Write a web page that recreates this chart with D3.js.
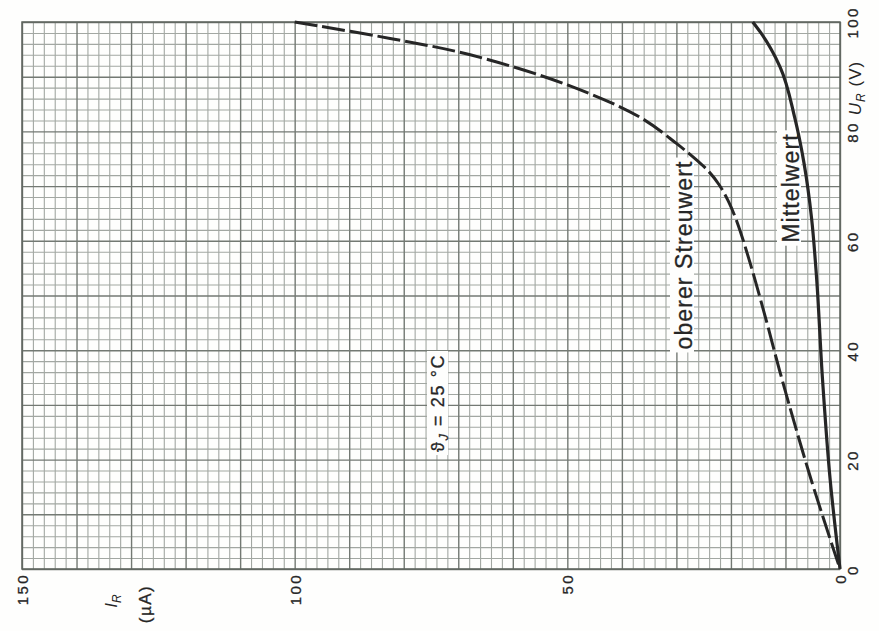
<!DOCTYPE html>
<html><head><meta charset="utf-8">
<script src="https://cdn.jsdelivr.net/npm/d3@7"></script>
<style>html,body{margin:0;padding:0;background:#fff}svg{display:block}</style>
</head><body><svg id="chart" width="879" height="631"></svg>
<script>
// ---- data ----
const currentTicks = [150, 100, 50, 0];          // I_R (µA)
const voltageTicks = [0, 20, 40, 60, 80, 100];   // U_R (V)
const upperCurrent = [0, 5.5, 11, 13.4, 16.5, 18.9, 20.5, 22.2, 24, 26, 30, 36.7, 50, 67.8, 82.5, 100];
const upperVoltage = [0, 17, 36, 45, 56, 63.5, 67.3, 70.3, 72.6, 74.5, 77.8, 82.6, 88.5, 94, 97, 100];
const meanCurrent = [0, 1.8, 3.2, 4.4, 5.2, 6.6, 8.3, 11, 14.5, 16];
const meanVoltage = [0, 16.3, 34.6, 54.7, 64, 74.2, 82.5, 91.8, 98, 100];
const labelUpper = "oberer Streuwert";
const labelMean = "Mittelwert";
const labelTemp = ["ϑ", "J", " = 25 °C"];

// ---- layout ----
const svg = d3.select("#chart");
const L = 22, R = 840, T = 22, B = 569;
const x = d3.scaleLinear().domain([150, 0]).range([L, R]);
const y = d3.scaleLinear().domain([0, 100]).range([B, T]);
const ink = "#262626";
const font = "'Liberation Sans', Arial, sans-serif";
const paper = "#fefefd";

svg.append("rect").attr("width", 879).attr("height", 631).attr("fill", paper);

// grid via axes
const minorX = d3.range(0, 150.001, 2).filter(v => v % 10 !== 0);
const majorX = d3.range(0, 150.001, 10);
const minorY = d3.range(0, 100.001, 2).filter(v => v % 10 !== 0);
const majorY = d3.range(0, 100.001, 10);

function grid(axis, vals, color, w) {
  const g = svg.append("g");
  g.call(axis.tickValues(vals).tickFormat(""));
  g.select(".domain").remove();
  g.selectAll(".tick line").attr("stroke", color).attr("stroke-width", w);
  return g;
}
grid(d3.axisBottom(x).tickSize(-(B - T)), minorX, "#a2a7a2", 1.1).attr("transform", `translate(0,${B})`);
grid(d3.axisLeft(y).tickSize(-(R - L)), minorY, "#a2a7a2", 1.1).attr("transform", `translate(${L},0)`);
grid(d3.axisBottom(x).tickSize(-(B - T)), majorX, "#737973", 1.4).attr("transform", `translate(0,${B})`);
grid(d3.axisLeft(y).tickSize(-(R - L)), majorY, "#737973", 1.4).attr("transform", `translate(${L},0)`);
svg.append("rect").attr("x", L).attr("y", T).attr("width", R - L).attr("height", B - T)
  .attr("fill", "none").attr("stroke", "#5d635d").attr("stroke-width", 1.5);

// label with white box helper
function boxedLabel(cx, cy, size, spacing, build) {
  const g = svg.append("g").attr("transform", `translate(${cx},${cy}) rotate(-90)`);
  const t = g.append("text").attr("text-anchor", "middle").attr("font-family", font)
    .attr("font-size", size).attr("letter-spacing", spacing).attr("fill", ink)
    .attr("stroke", ink).attr("stroke-width", 0.3);
  build(t);
  const bb = t.node().getBBox();
  g.insert("rect", "text").attr("x", bb.x - 3).attr("y", bb.y - 1)
    .attr("width", bb.width + 6).attr("height", bb.height - 2).attr("fill", paper);
  return g;
}

// curve labels (under the curves)
boxedLabel(692, 255, 23, 1.1, t => t.text(labelUpper));
boxedLabel(799, 188, 23, 1.1, t => t.text(labelMean));
boxedLabel(444, 403, 18, 1.6, t => {
  t.append("tspan").text(labelTemp[0]);
  t.append("tspan").attr("dy", 4).attr("font-size", 13).attr("font-style", "italic").text(labelTemp[1]);
  t.append("tspan").attr("dy", -4).text(labelTemp[2]);
});

// curves
const line = d3.line().x(d => x(d[0])).y(d => y(d[1])).curve(d3.curveCatmullRom.alpha(0.5));
const upper = upperCurrent.map((c, i) => [c, upperVoltage[i]]).reverse();
const mean = meanCurrent.map((c, i) => [c, meanVoltage[i]]).reverse();
svg.append("path").attr("d", line(upper)).attr("fill", "none").attr("stroke", ink)
  .attr("stroke-width", 3).attr("stroke-dasharray", "23,5");
svg.append("path").attr("d", line.curve(d3.curveMonotoneY)(mean)).attr("fill", "none").attr("stroke", ink)
  .attr("stroke-width", 3.2);

// bottom axis labels (I_R)
const ax = svg.append("g").attr("transform", `translate(0,${B})`)
  .call(d3.axisBottom(x).tickValues(currentTicks).tickSize(0));
ax.select(".domain").remove();
ax.selectAll("text").attr("transform", "rotate(-90)").attr("x", -4).attr("y", 0)
  .attr("dy", "0.36em").attr("text-anchor", "end").attr("font-family", font)
  .attr("font-size", 15).attr("letter-spacing", 2.4).attr("fill", ink)
  .attr("stroke", ink).attr("stroke-width", 0.3);

// right axis labels (U_R)
const ay = svg.append("g").attr("transform", `translate(${R},0)`)
  .call(d3.axisRight(y).tickValues(voltageTicks).tickSize(0));
ay.select(".domain").remove();
ay.selectAll("text").attr("transform", "rotate(-90)").attr("x", 0).attr("y", 18)
  .attr("dy", 0).attr("text-anchor", "middle").attr("font-family", font)
  .attr("font-size", 15).attr("letter-spacing", 2.4).attr("fill", ink)
  .attr("stroke", ink).attr("stroke-width", 0.3);

// axis titles
const ti = svg.append("text").attr("transform", "translate(117,601) rotate(-90)")
  .attr("text-anchor", "middle").attr("font-family", font).attr("font-size", 17).attr("fill", ink);
ti.append("tspan").attr("font-style", "italic").text("I");
ti.append("tspan").attr("dy", 4).attr("font-size", 12).attr("font-style", "italic").text("R");
svg.append("text").attr("transform", "translate(151,604) rotate(-90)")
  .attr("text-anchor", "middle").attr("font-family", font).attr("font-size", 17)
  .attr("letter-spacing", 1.5).attr("fill", ink).attr("stroke", ink).attr("stroke-width", 0.3).text("(µA)");
const tu = svg.append("text").attr("transform", "translate(861,88) rotate(-90)")
  .attr("text-anchor", "middle").attr("font-family", font).attr("font-size", 17)
  .attr("letter-spacing", 1).attr("fill", ink);
tu.append("tspan").attr("font-style", "italic").text("U");
tu.append("tspan").attr("dy", 4).attr("font-size", 12).attr("font-style", "italic").text("R");
tu.append("tspan").attr("dy", -4).text(" (V)");
</script></body></html>
